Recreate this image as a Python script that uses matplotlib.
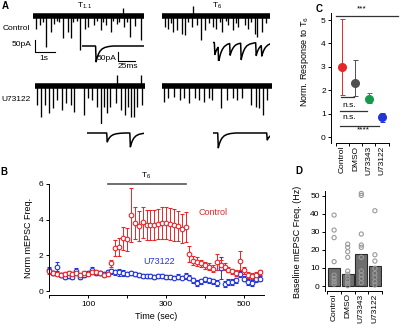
import numpy as np
import matplotlib
matplotlib.use("Agg")
import matplotlib.pyplot as plt

plt.rcParams['font.family'] = ['Liberation Sans', 'DejaVu Sans']
plt.rcParams['mathtext.default'] = 'regular'
plt.rcParams['font.size'] = 6

W, H = 400, 330
RED = '#e8262a'
BLUE = '#2334d8'
GREEN = '#17994a'
DGRAY = '#4f4f4f'

# ---- panel A: mEPSC events (time s, amplitude pA, positive = downward) ----
CTRL_T11_T = [0.15, 0.35, 0.5, 0.63, 0.9, 1.07, 1.2, 1.3, 1.48, 1.73, 1.9, 2.0, 2.2, 2.35, 2.6,
              2.77, 3.07, 3.2, 3.4, 3.5, 3.65, 3.9, 4.0, 4.18, 4.3, 4.55, 4.7, 4.85, 5.1, 5.38, 4.48]
CTRL_T11_A = [53, 39, 24, 129, 67, 32, 22, 26, 90, 67, 90, 25, 22, 143, 53,
              46, 39, 22, 60, 26, 39, 67, 22, 32, 25, 46, 24, 88, 43, 99, -35]
CTRL_T6_T = [0.15, 0.32, 0.57, 0.77, 0.98, 1.15, 1.48, 1.73, 1.95, 2.15, 2.57, 2.7, 3.02, 3.32,
             3.57, 3.82, 4.15, 4.32, 4.65, 4.77, 4.98, 0.45, 1.3, 2.35, 2.9, 3.2, 3.7, 4.45, 5.2, 1.57]
CTRL_T6_A = [46, 53, 67, 60, 74, 81, 46, 39, 99, 60, 46, 53, 67, 39,
             60, 46, 39, 53, 74, 88, 67, 28, 25, 30, 25, 22, 28, 25, 30, -40]
U73_T11_T = [0.12, 0.28, 0.5, 0.72, 0.92, 1.12, 1.33, 1.55, 1.78, 1.95, 2.45, 2.67, 2.83, 3.12,
             3.3, 3.45, 3.58, 3.75, 4.05, 4.28, 4.5, 4.67, 4.78, 4.95, 5.12, 5.33, 4.08, 5.28]
U73_T11_A = [79, 128, 79, 114, 93, 58, 100, 72, 79, 107, 121, 51, 58, 86,
             183, 86, 114, 86, 72, 100, 121, 86, 128, 128, 86, 79, -45, -45]
U73_T6_T = [0.1, 0.32, 0.6, 0.9, 1.1, 1.37, 1.65, 1.87, 2.1, 2.37, 2.52, 2.93, 3.23, 3.57,
            3.77, 3.98, 4.43, 4.7, 4.87, 5.03, 5.23]
U73_T6_A = [65, 51, 44, 58, 51, 72, 51, 58, 65, 51, 58, 93, 58, 51,
            58, 51, 79, 86, 93, 121, 58]

# single-event insets (ms, pA)
EPSC_SHAPE_MS = [0, 0.7, 1.5, 2.5, 4, 6, 9, 13, 18, 25]
EPSC_SHAPE = [0, -1, -0.85, -0.7, -0.52, -0.35, -0.2, -0.1, -0.04, 0]
CTRL_T11_INSET = [(20, 86)]
CTRL_T6_INSET = [(2, 65), (7.5, 85), (24.5, 65), (40.7, 90), (62.8, 70), (71, 60)]
U73_T11_INSET = [(29, 49), (63, 76)]
U73_T6_INSET = [(7, 81), (79, 38)]

# ---- panel B: time course ----
TIME_SEC = list(range(0, 550, 10))
CTRL_FREQ = [1.1, 1.0, 0.95, 0.9, 0.95, 1.0, 0.95, 1.0, 0.9, 1.0, 0.95, 1.05, 1.05, 1.0, 0.9, 0.95,
             1.55, 2.4, 2.45, 2.95, 2.9, 4.25, 3.8, 3.65, 3.85, 3.7, 3.7, 3.7, 3.75, 3.8, 3.8, 3.75,
             3.7, 3.65, 3.5, 3.6,
             2.05, 1.7, 1.65, 1.55, 1.45, 1.35, 1.25, 1.65, 1.45, 1.35, 1.2, 1.1, 1.0, 1.7, 1.15,
             0.9, 0.85, 0.9, 1.05]
CTRL_ERR = [0.15, 0.1, 0.1, 0.1, 0.1, 0.1, 0.1, 0.12, 0.1, 0.1, 0.1, 0.1, 0.1, 0.1, 0.1, 0.1,
            0.2, 0.45, 0.5, 0.65, 0.65, 1.5, 0.9, 0.85, 0.85, 0.85, 0.85, 0.85, 0.85, 0.9, 0.9, 0.9,
            0.9, 0.85, 0.8, 0.85,
            0.45, 0.25, 0.25, 0.2, 0.2, 0.2, 0.2, 0.45, 0.3, 0.2, 0.15, 0.15, 0.15, 0.55, 0.2,
            0.15, 0.15, 0.15, 0.15]
U73_FREQ = [1.2, 1.0, 1.35, 0.9, 0.8, 0.85, 0.8, 1.1, 0.8, 0.9, 1.0, 1.2, 1.0, 1.0, 0.95, 1.05,
            1.1, 1.05, 1.05, 1.0, 0.95, 1.0, 0.95, 0.9, 0.85, 0.85, 0.85, 0.8, 0.85, 0.85, 0.8, 0.8,
            0.75, 0.8, 0.75, 0.85,
            0.75, 0.6, 0.45, 0.55, 0.65, 0.6, 0.55, 0.45, 1.3, 0.4, 0.5, 0.5, 0.6, 0.95, 0.7,
            0.5, 0.45, 0.65, 0.7]
U73_ERR = [0.15, 0.1, 0.25, 0.1, 0.1, 0.1, 0.1, 0.2, 0.15, 0.1, 0.1, 0.15, 0.1, 0.1, 0.1, 0.1,
           0.15, 0.15, 0.2, 0.15, 0.1, 0.1, 0.1, 0.1, 0.1, 0.1, 0.1, 0.1, 0.1, 0.1, 0.1, 0.1,
           0.1, 0.15, 0.1, 0.15,
           0.15, 0.15, 0.15, 0.15, 0.15, 0.15, 0.15, 0.15, 0.6, 0.15, 0.15, 0.15, 0.15, 0.15, 0.15,
           0.15, 0.15, 0.15, 0.15]

# ---- panels C, D ----
GROUPS = ['Control', 'DMSO', 'U73343', 'U73122']
GROUP_COLORS = [RED, DGRAY, GREEN, BLUE]
RESP_MEAN = [3.0, 2.3, 1.63, 0.87]
RESP_LO = [1.8, 1.75, 1.45, 0.65]
RESP_HI = [5.05, 3.28, 1.88, 1.05]
BASE_MEAN = [10, 6.5, 17.5, 11.2]
BASE_PTS = [[39.3, 31, 26.8, 13.5, 6, 4.2, 2.4, 1.1],
            [23.2, 21.4, 19, 15.9, 8.3, 6.5, 5.2, 3, 1.5, 0.2],
            [51.3, 50.2, 28.8, 22.7, 21.4, 15.9, 8.3, 6.1, 4.2, 1.8],
            [41.7, 17.3, 13.8, 9.8, 7, 4.8, 2.4, 0.6]]

fig = plt.figure(figsize=(4, 3.3), dpi=100)


def px_axes(x0, x1, y0, y1):
    return fig.add_axes([x0 / W, 1 - y1 / H, (x1 - x0) / W, (y1 - y0) / H])


def ftext(x, y, s, **kw):
    fig.text(x / W, 1 - y / H, s, **kw)


def trace(x0, ybase, dur, times, amps):
    # 20 px per s, 4.17 pA per px
    ax = px_axes(x0, x0 + dur * 20, ybase - 45 / 4.17, ybase + 160 / 4.17)
    ax.set_xlim(0, dur)
    ax.set_ylim(-160, 45)
    ax.axis('off')
    ax.plot([0, dur], [0, 0], color='k', lw=4.0, solid_capstyle='butt')
    ax.vlines(times, 0, -np.array(amps), color='k', lw=0.95)
    return ax


def inset(x0, ybase, dur, events):
    # 0.68 px per ms, 5.4 pA per px
    ax = px_axes(x0, x0 + dur * 0.68, ybase - 10 / 5.4, ybase + 100 / 5.4)
    ax.set_xlim(0, dur)
    ax.set_ylim(-100, 10)
    ax.axis('off')
    t = np.linspace(0, dur, 400)
    y = np.zeros_like(t)
    for te, a in events:
        y += a * np.interp(t - te, EPSC_SHAPE_MS, EPSC_SHAPE, left=0, right=0)
    ax.plot(t, y, color='k', lw=1.1)
    return ax


axc1 = trace(33, 16, 5.55, CTRL_T11_T, CTRL_T11_A)
axc1.plot([0.1, 0.1, 1.1], [-100, -150, -150], color='k', lw=0.8, clip_on=False)
trace(162, 16, 5.4, CTRL_T6_T, CTRL_T6_A)
trace(35, 86, 5.5, U73_T11_T, U73_T11_A)
trace(162, 86, 5.5, U73_T6_T, U73_T6_A)

axi = inset(82, 46, 91, CTRL_T11_INSET)
axi.plot([53, 53, 78], [-31, -81, -81], color='k', lw=0.8, clip_on=False)
inset(213, 42.5, 84, CTRL_T6_INSET)
inset(87, 133, 84, U73_T11_INSET)
inset(213, 133, 84, U73_T6_INSET)

ftext(5, 6, 'A', fontweight='bold', fontsize=7, ha='center', va='center')
ftext(85, 6, 'T$_{1.1}$', ha='center', va='center', fontsize=6)
ftext(217, 6, 'T$_6$', ha='center', va='center', fontsize=6)
ftext(16, 28, 'Control', ha='center', va='center')
ftext(16, 99, 'U73122', ha='center', va='center')
ftext(32, 44, '50pA', ha='right', va='center')
ftext(44, 59, '1s', ha='center', va='center')
ftext(117, 59, '50pA', ha='right', va='center')
ftext(128, 67, '25ms', ha='center', va='center')


def igor_axes(ax):
    for s in ['top', 'right']:
        ax.spines[s].set_visible(False)
    for s in ['left', 'bottom']:
        ax.spines[s].set_linewidth(0.7)
    ax.tick_params(direction='out', length=2.5, width=0.7, pad=1.5, labelsize=6)
    ax.set_facecolor('none')


# ---- B ----
axB = px_axes(49, 263.5, 184, 291)
igor_axes(axB)
axB.errorbar(TIME_SEC, U73_FREQ, yerr=U73_ERR, fmt='o', ms=3.3, mfc='white', mec=BLUE, mew=0.8,
             ecolor=BLUE, elinewidth=0.7, capsize=1.4, capthick=0.7, clip_on=False)
axB.errorbar(TIME_SEC, CTRL_FREQ, yerr=CTRL_ERR, fmt='o', ms=3.3, mfc='white', mec=RED, mew=0.8,
             ecolor=RED, elinewidth=0.7, capsize=1.4, capthick=0.7, clip_on=False)
axB.plot([150, 350], [6, 6], color='#555555', lw=1.2, clip_on=False)
axB.text(250, 6.15, 'T$_6$', ha='center', va='bottom', fontsize=6)
axB.text(420, 4.4, 'Control', color=RED, ha='center', va='center', fontsize=6.5)
axB.text(282, 1.63, 'U73122', color=BLUE, ha='center', va='center', fontsize=6.5)
axB.set_xlim(0, 550)
axB.set_ylim(0, 6)
axB.spines['bottom'].set_position(('outward', 3))
axB.set_xticks([0, 100, 200, 300, 400, 500])
axB.set_xticklabels(['', '100', '', '300', '', '500'])
axB.set_yticks([0, 2, 4, 6])
axB.set_xlabel('Time (sec)', fontsize=6.5, labelpad=3)
axB.set_ylabel('Norm mEPSC Freq.', fontsize=6.5, labelpad=4)
ftext(4, 172, 'B', fontweight='bold', fontsize=7, ha='center', va='center')

# ---- C ----
axC = px_axes(335.5, 388.5, 13, 143)
igor_axes(axC)
for i in range(4):
    axC.errorbar([i], [RESP_MEAN[i]], yerr=[[RESP_MEAN[i] - RESP_LO[i]], [RESP_HI[i] - RESP_MEAN[i]]],
                 fmt='o', ms=5.5, color=GROUP_COLORS[i], elinewidth=0.7, capsize=1.8, capthick=0.7,
                 clip_on=False)
axC.set_xlim(-0.5, 3.5)
axC.set_ylim(-0.25, 5.3)
sig_kw = dict(color='#333333', lw=0.9, clip_on=False)
axC.plot([-0.5, 4.2], [5.18, 5.18], **sig_kw)
axC.text(1.5, 5.47, '***', ha='center', va='center', fontsize=6)
axC.plot([-0.1, 0.9], [1.7, 1.7], **sig_kw)
axC.text(0.5, 1.35, 'n.s.', ha='center', va='center', fontsize=6)
axC.plot([-0.15, 1.85], [1.12, 1.12], **sig_kw)
axC.text(0.5, 0.83, 'n.s.', ha='center', va='center', fontsize=6)
axC.plot([-0.15, 2.8], [0.48, 0.48], **sig_kw)
axC.text(1.6, 0.33, '****', ha='center', va='center', fontsize=6)
axC.spines['left'].set_position(('outward', 3))
axC.set_yticks([0, 1, 2, 3, 4, 5])
axC.set_xticks([-0.5, 0.5, 1.5, 2.5, 3.5])
axC.set_xticklabels([])
axC.set_xticks(range(4), minor=True)
axC.set_xticklabels(GROUPS, minor=True, rotation=90, fontsize=6)
axC.tick_params(axis='x', which='minor', length=0, pad=2)
ftext(305, 62, 'Norm. Response to T$_6$', rotation=90, ha='center', va='center', fontsize=6.5)
ftext(319, 9, 'C', fontweight='bold', fontsize=7, ha='center', va='center')

# ---- D ----
axD = px_axes(327.3, 381.7, 190.7, 290.7)
igor_axes(axD)
axD.bar(range(4), BASE_MEAN, width=0.88, color='#6e6e6e', edgecolor='#2a2a2a', lw=0.8)
for i, pts in enumerate(BASE_PTS):
    axD.scatter([i] * len(pts), pts, s=9, facecolors='none', edgecolors='#9a9a9a',
                linewidths=0.8, zorder=3, clip_on=False)
axD.set_xlim(-0.5, 3.5)
axD.set_ylim(-2.6, 52.8)
axD.spines['left'].set_position(('outward', 1.5))
axD.set_yticks([0, 10, 20, 30, 40, 50])
axD.set_xticks([-0.5, 0.5, 1.5, 2.5, 3.5])
axD.set_xticklabels([])
axD.set_xticks(range(4), minor=True)
axD.set_xticklabels(GROUPS, minor=True, rotation=90, fontsize=6)
axD.tick_params(axis='x', which='minor', length=0, pad=2)
ftext(297, 242, 'Baseline mEPSC Freq. (Hz)', rotation=90, ha='center', va='center', fontsize=6.5)
ftext(299, 171, 'D', fontweight='bold', fontsize=7, ha='center', va='center')

fig.savefig('out.png', dpi=100)
